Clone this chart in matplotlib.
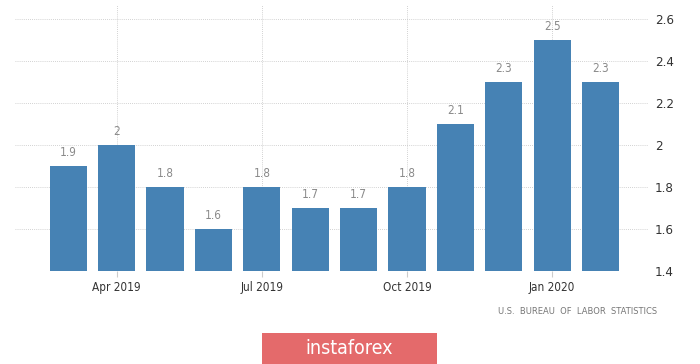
import matplotlib.pyplot as plt
from matplotlib.patches import Rectangle

months = ["Mar 2019", "Apr 2019", "May 2019", "Jun 2019", "Jul 2019", "Aug 2019",
          "Sep 2019", "Oct 2019", "Nov 2019", "Dec 2019", "Jan 2020", "Feb 2020"]
values = [1.9, 2.0, 1.8, 1.6, 1.8, 1.7, 1.7, 1.8, 2.1, 2.3, 2.5, 2.3]
tick_idx = [1, 4, 7, 10]
yticks = [1.4, 1.6, 1.8, 2.0, 2.2, 2.4, 2.6]

fig = plt.figure(figsize=(7, 3.64), dpi=100)
ax = fig.add_axes([0.0214, 0.2555, 0.9043, 0.7305])

x = list(range(len(values)))
ax.bar(x, [v - 1.4 for v in values], bottom=1.4, width=0.77, color="#4682b4", zorder=3)

for xi, v in zip(x, values):
    lab = f"{v:g}"
    ax.text(xi, v + 0.035, lab, ha="center", va="bottom", fontsize=8.5, color="#8a8a8a",
            stretch="condensed")

ax.set_xlim(-1.1, 11.98)
ax.set_ylim(1.4, 2.667)

ax.set_yticks(yticks)
ax.set_yticklabels([f"{t:g}" for t in yticks], stretch="condensed")
ax.yaxis.tick_right()
ax.tick_params(axis="y", length=0, pad=5, labelsize=9.5, labelcolor="#333333")

ax.set_xticks(tick_idx)
ax.set_xticklabels([months[i] for i in tick_idx], stretch="condensed")
ax.tick_params(axis="x", length=4, color="#cccccc", pad=3, labelsize=8.5, labelcolor="#333333")

ax.grid(True, color="#c4c4c4", linestyle=(0, (1, 1.5)), linewidth=0.6, zorder=0)
for s in ax.spines.values():
    s.set_visible(False)

fig.text(0.939, 0.145, "U.S.  BUREAU  OF  LABOR  STATISTICS", ha="right", va="center",
         fontsize=6, color="#777777")

fig.patches.append(Rectangle((262 / 700, 0), 175 / 700, 31 / 364, transform=fig.transFigure,
                             facecolor="#e46a6b", edgecolor="none"))
fig.text(349.5 / 700, 16 / 364, "instaforex", ha="center", va="center", fontsize=14,
         color="white", stretch="condensed")

fig.savefig("out.png", dpi=100)
